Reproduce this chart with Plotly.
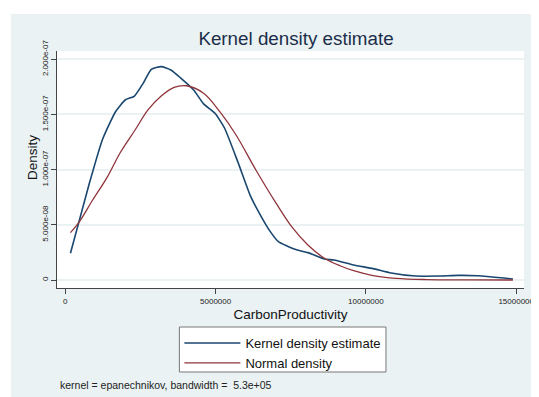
import plotly.graph_objects as go

# Kernel density estimate (x in units of 1e6, y in units of 1e-8)
kde_x = [0.17, 0.47, 0.80, 1.23, 1.67, 1.99, 2.30, 2.59, 2.86, 3.19, 3.51, 3.84, 4.27, 4.60,
         4.98, 5.30, 5.74, 6.17, 6.55, 6.82, 7.09, 7.64, 8.07, 8.62, 8.94, 9.59, 10.24, 10.79,
         11.65, 12.42, 13.07, 13.72, 14.59, 14.89]
kde_y = [2.42, 5.44, 8.76, 12.69, 15.25, 16.31, 16.67, 17.82, 19.09, 19.33, 19.03, 18.30, 17.22, 15.96,
         15.11, 13.75, 10.70, 7.55, 5.59, 4.38, 3.47, 2.78, 2.48, 1.90, 1.81, 1.36, 1.03, 0.66,
         0.36, 0.36, 0.42, 0.39, 0.18, 0.09]

# Normal density
norm_x = [0.17, 0.47, 0.91, 1.39, 1.83, 2.32, 2.75, 3.19, 3.62, 4.03, 4.60, 5.14, 5.68, 6.34,
          6.99, 7.53, 8.07, 8.62, 9.16, 9.59, 10.24, 11.0, 12.0, 13.4, 14.89]
norm_y = [4.29, 5.29, 7.25, 9.30, 11.55, 13.59, 15.41, 16.67, 17.46, 17.60, 16.92, 15.25, 13.14, 9.97,
          7.05, 4.83, 3.17, 1.97, 1.27, 0.84, 0.40, 0.15, 0.04, 0.01, 0.0]

x_tickvals = [0, 5000000, 10000000, 15000000]
x_ticktext = ["0", "5000000", "10000000", "15000000"]
y_tickvals = [0, 5e-8, 1e-7, 1.5e-7, 2e-7]
y_ticktext = ["0", "5.000e-08", "1.000e-07", "1.500e-07", "2.000e-07"]

kx = [v * 1e6 for v in kde_x]
ky = [v * 1e-8 for v in kde_y]
nx = [v * 1e6 for v in norm_x]
ny = [v * 1e-8 for v in norm_y]

BG = "#eaf2f3"
FONT = "Liberation Sans, Arial, Helvetica, sans-serif"

# page body has an 8px margin, so the figure is drawn 8px in from the window corner
W, H = 531, 389

fig = go.Figure()
fig.add_trace(go.Scatter(x=kx, y=ky, mode="lines", name="Kernel density estimate",
                         line=dict(color="#1a476f", width=1.6, shape="spline", smoothing=0.5)))
fig.add_trace(go.Scatter(x=nx, y=ny, mode="lines", name="Normal density",
                         line=dict(color="#90353b", width=1.3, shape="spline", smoothing=1.0)))

fig.update_layout(
    width=W, height=H,
    margin=dict(l=49, r=5, t=43, b=109),
    paper_bgcolor=BG, plot_bgcolor="white",
    font=dict(family=FONT, color="#222222"),
    title=dict(text="Kernel density estimate", x=(296 - 8) / W, xanchor="center",
               y=1 - (38.5 - 8) / H, yanchor="middle",
               font=dict(size=18.8, color="#1c2e4a", family=FONT)),
    showlegend=True,
    legend=dict(x=(182 - 57) / 477, xanchor="left", y=(288 - 328) / 237, yanchor="top",
                bgcolor="rgba(0,0,0,0)", borderwidth=0,
                font=dict(size=13, color="#111111"), itemwidth=56,
                tracegroupgap=0),
    xaxis=dict(range=[-0.277e6, 15.26e6], tickvals=x_tickvals, ticktext=x_ticktext,
               showgrid=False, zeroline=False, showline=True, linecolor="#444444", linewidth=1,
               ticks="outside", ticklen=5, tickcolor="#444444", ticklabeloverflow="allow",
               tickfont=dict(size=8, color="#222222"),
               title=dict(text="CarbonProductivity", font=dict(size=13.5, color="#111111"), standoff=4)),
    yaxis=dict(range=[-0.725e-8, 20.75e-8], tickvals=y_tickvals, ticktext=y_ticktext,
               showgrid=True, gridcolor=BG, gridwidth=1.5, zeroline=False,
               showline=True, linecolor="#444444", linewidth=1,
               ticks="outside", ticklen=5, tickcolor="#444444", tickangle=-90,
               tickfont=dict(size=8, color="#222222")),
    shapes=[
        dict(type="rect", xref="paper", yref="paper", x0=-0.2, x1=1.1,
             y0=(288 - 14) / 237, y1=1.3, fillcolor="white", line=dict(width=0), layer="below"),
        dict(type="rect", xref="paper", yref="paper", x0=-0.2, x1=(10 - 57) / 477,
             y0=-0.6, y1=1.3, fillcolor="white", line=dict(width=0), layer="below"),
        # legend frame
        dict(type="rect", xref="paper", yref="paper", x0=(182 - 57) / 477, x1=(393 - 57) / 477,
             y0=(288 - 372) / 237, y1=(288 - 327) / 237, fillcolor="white",
             line=dict(color="#777777", width=1), layer="above"),
    ],
    annotations=[
        dict(text="Density", xref="paper", yref="paper", x=(32 - 57) / 477, y=(288 - 157.5) / 237,
             xanchor="center", yanchor="middle", textangle=-90, showarrow=False,
             font=dict(size=13.5, color="#111111")),
        dict(text="kernel = epanechnikov, bandwidth =\u00a0 5.3e+05", xref="paper", yref="paper",
             x=(58 - 57) / 477, y=(288 - 384.5) / 237, xanchor="left", yanchor="middle",
             showarrow=False, font=dict(size=10.5, color="#222222")),
    ],
)

fig.write_html("out.html")
